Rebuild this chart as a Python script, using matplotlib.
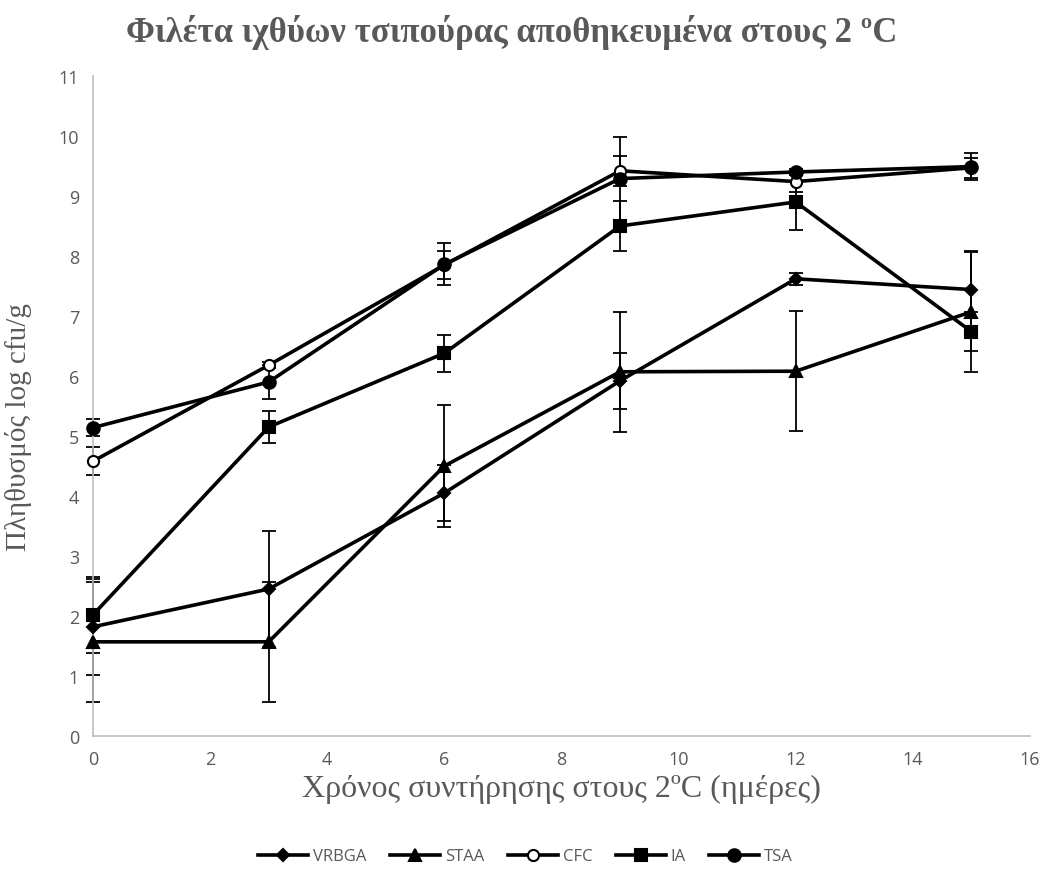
import matplotlib.pyplot as plt
import numpy as np

# storage days
days = [0, 3, 6, 9, 12, 15]

# log cfu/g per medium, with error bar half-widths
vrbga = [1.82, 2.45, 4.05, 5.92, 7.62, 7.44]
vrbga_err = [0.8, 0.97, 0.47, 0.47, 0.1, 0.64]
staa = [1.57, 1.57, 4.5, 6.07, 6.08, 7.07]
staa_err = [1.0, 1.0, 1.02, 1.0, 1.0, 1.0]
cfc = [4.58, 6.18, 7.85, 9.42, 9.24, 9.47]
cfc_err = [0.23, 0.05, 0.23, 0.25, 0.17, 0.17]
ia = [2.02, 5.15, 6.38, 8.5, 8.9, 6.74]
ia_err = [0.63, 0.26, 0.31, 0.42, 0.46, 0.33]
tsa = [5.14, 5.9, 7.86, 9.29, 9.4, 9.49]
tsa_err = [0.14, 0.28, 0.35, 0.7, 0.05, 0.23]

names = ['VRBGA', 'STAA', 'CFC', 'IA', 'TSA']
markers = ['D', '^', 'o', 's', 'o']
faces = ['black', 'black', 'white', 'black', 'black']
sizes = [6, 8, 8, 8, 9]

grey = '#595959'
serif = ['Liberation Serif', 'DejaVu Serif']
sans = ['Open Sans', 'DejaVu Sans']

fig = plt.figure(figsize=(10.51, 8.95), dpi=100)
ax = fig.add_axes([0.0885, 0.1765, 0.8915, 0.7375])

series = [(vrbga, vrbga_err), (staa, staa_err), (cfc, cfc_err), (ia, ia_err), (tsa, tsa_err)]
for i, (vals, err) in enumerate(series):
    eb = ax.errorbar(days, vals, yerr=err, fmt='none', ecolor='black',
                     elinewidth=1.3, capsize=5, capthick=1.3, zorder=2)
    for art in eb.lines[1] + eb.lines[2]:
        art.set_clip_on(False)
    ax.plot(days, vals, color='black', lw=2.6, marker=markers[i],
            markersize=sizes[i], markerfacecolor=faces[i],
            markeredgecolor='black', markeredgewidth=1.5,
            label=names[i], zorder=3 + i, clip_on=False)

ax.set_xlim(0, 16)
ax.set_ylim(0, 11)
ax.set_xticks(np.arange(0, 17, 2))
ax.set_yticks(np.arange(0, 12, 1))
for s in ['top', 'right']:
    ax.spines[s].set_visible(False)
for s in ['left', 'bottom']:
    ax.spines[s].set_color('#BFBFBF')
    ax.spines[s].set_linewidth(1.2)
ax.tick_params(length=0, pad=10, labelsize=13, labelcolor=grey)
for lab in ax.get_xticklabels() + ax.get_yticklabels():
    lab.set_family(sans)

ax.set_xlabel('Χρόνος συντήρησης στους 2ºC (ημέρες)', family=serif,
              fontsize=23, color=grey, labelpad=4)
ax.set_ylabel('Πληθυσμός log cfu/g', family=serif, fontsize=21, color=grey)
ax.yaxis.set_label_coords(-0.065, 0.47)

fig.text(0.487, 0.964, 'Φιλέτα ιχθύων τσιπούρας αποθηκευμένα στους 2 ºC',
         ha='center', va='center', family=serif, fontsize=25,
         fontweight='bold', color=grey)

leg = fig.legend(loc='center', bbox_to_anchor=(0.5, 0.042), ncol=5,
                 frameon=False, prop={'family': sans, 'size': 12},
                 handlelength=3, columnspacing=1.4, handletextpad=0.3)
for t in leg.get_texts():
    t.set_color(grey)

fig.savefig('out.png', dpi=100)
